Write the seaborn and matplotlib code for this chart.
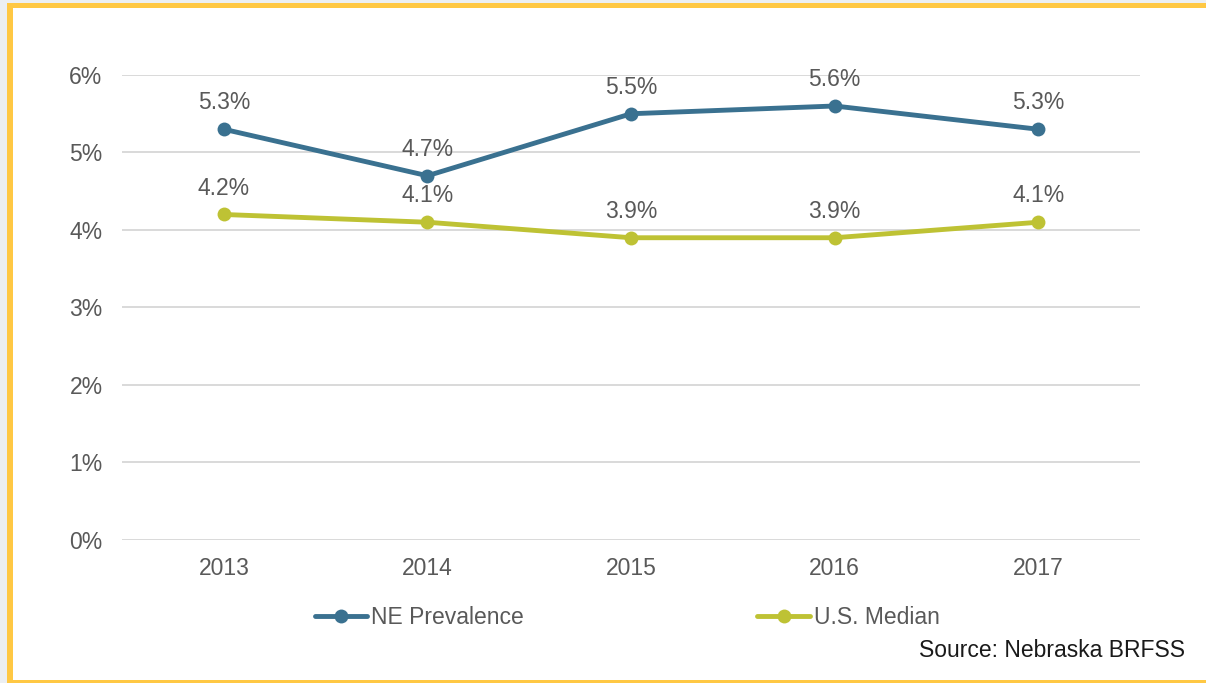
import matplotlib
matplotlib.use("Agg")
import matplotlib.pyplot as plt
from matplotlib.patches import Rectangle
import pandas as pd
import seaborn as sns

sns.set_theme(style="white")
plt.rcParams['font.family'] = ['Liberation Sans', 'DejaVu Sans']

years = ["2013", "2014", "2015", "2016", "2017"]
ne_prevalence = [5.3, 4.7, 5.5, 5.6, 5.3]
us_median = [4.2, 4.1, 3.9, 3.9, 4.1]
series_names = ["NE Prevalence", "U.S. Median"]
colors = {"NE Prevalence": "#3a7190", "U.S. Median": "#bec234"}

df = pd.DataFrame({
    "year": years * 2,
    "value": ne_prevalence + us_median,
    "series": [series_names[0]] * 5 + [series_names[1]] * 5,
})

FS = 16.5
TXT = "#595959"

fig = plt.figure(figsize=(12.06, 6.83), dpi=100)
fig.patch.set_facecolor("white")
ax = fig.add_axes([0.1012, 0.2094, 0.8441, 0.6808])

sns.lineplot(data=df, x="year", y="value", hue="series", palette=colors,
             marker="o", markersize=10, linewidth=3.5, markeredgewidth=0,
             ax=ax, legend=True)

ax.set_xlim(-0.5, 4.5)
ax.set_ylim(0, 6)
ax.set_yticks(range(0, 7))
ax.set_yticklabels([f"{i}%" for i in range(0, 7)])
ax.grid(axis="y", color="#d9d9d9", linewidth=1.4)
ax.set_axisbelow(True)
for s in ax.spines.values():
    s.set_visible(False)
ax.tick_params(axis="both", length=0, labelsize=FS, colors=TXT)
ax.tick_params(axis="x", pad=12)
ax.tick_params(axis="y", pad=14)
ax.set_xlabel("")
ax.set_ylabel("")

# data labels
for vals in [ne_prevalence, us_median]:
    for i, v in enumerate(vals):
        ax.annotate(f"{v}%", (i, v), xytext=(0, 19), textcoords="offset points",
                    ha="center", va="center", fontsize=FS, color=TXT)

handles, labels = ax.get_legend_handles_labels()
ax.get_legend().remove()
fig.legend(handles, labels, loc="center", bbox_to_anchor=(0.520, 0.0966),
           ncol=2, frameon=False, fontsize=FS, handlelength=2.3,
           handletextpad=0.15, columnspacing=10.2, labelcolor=TXT,
           borderpad=0, borderaxespad=0)

fig.text(0.983, 0.048, "Source: Nebraska BRFSS", ha="right", va="center",
         fontsize=FS, color="#1a1a1a")

# frame decoration
fig.patches.append(Rectangle((0, 0), 0.006, 1, transform=fig.transFigure,
                             facecolor="#eceff2", edgecolor="none", zorder=0))
fig.patches.append(Rectangle((0, 0.995), 1, 0.005, transform=fig.transFigure,
                             facecolor="#eceff2", edgecolor="none", zorder=0))
fig.patches.append(Rectangle((0.006, 0), 0.0045, 0.995, transform=fig.transFigure,
                             facecolor="#ffc844", edgecolor="none", zorder=1))
fig.patches.append(Rectangle((0.006, 0.988), 0.994, 0.008, transform=fig.transFigure,
                             facecolor="#ffc844", edgecolor="none", zorder=1))
fig.patches.append(Rectangle((0.006, 0), 0.994, 0.005, transform=fig.transFigure,
                             facecolor="#ffc844", edgecolor="none", zorder=1))

fig.savefig("out.png", dpi=100)
